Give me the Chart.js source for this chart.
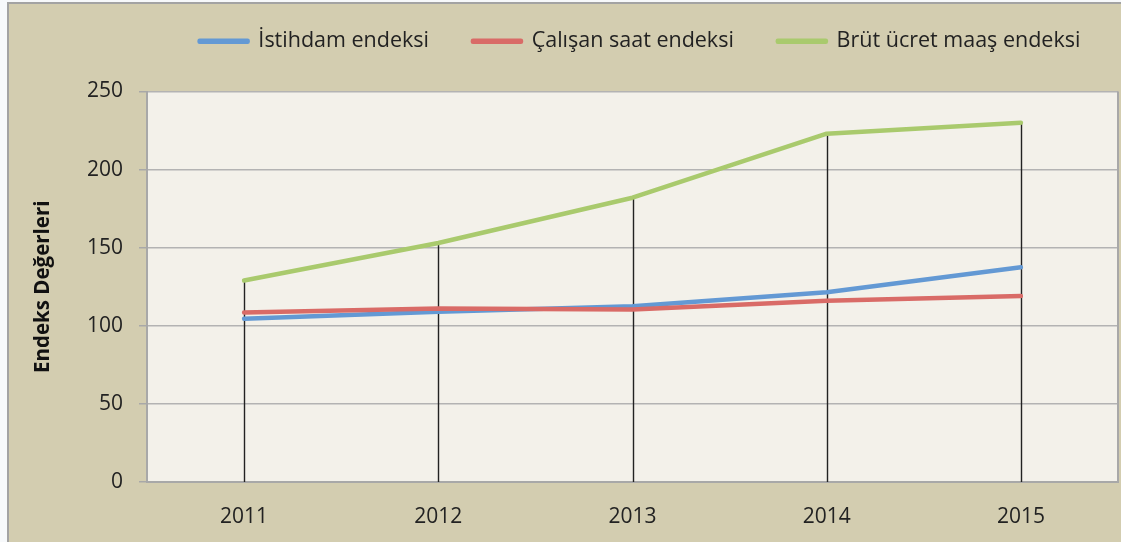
<!DOCTYPE html>
<html>
<head>
<meta charset="utf-8">
<script src="https://cdn.jsdelivr.net/npm/chart.js@4.4.0/dist/chart.umd.min.js"></script>
<style>
  html, body { margin: 0; padding: 0; background: #f7f9fb; }
</style>
</head>
<body>
<canvas id="endeksChart" width="1121" height="542"></canvas>
<script>
const anios = ['2011', '2012', '2013', '2014', '2015'];
const istihdam = [104.5, 109, 112.5, 121.5, 137.5];
const calisanSaat = [108.5, 111, 110.5, 116, 119];
const brutUcret = [129, 153, 182, 223, 230];
const yMin = 0, yMax = 250, yPaso = 50;

Chart.defaults.font.family = "'Open Sans', sans-serif";
Chart.defaults.color = '#222';

// fondo del grafico y del area de trazado
const fondo = {
  id: 'fondo',
  beforeDraw(chart) {
    const { ctx, chartArea: a } = chart;
    ctx.save();
    ctx.fillStyle = '#f7f9fb';
    ctx.fillRect(0, 0, chart.width, chart.height);
    ctx.fillStyle = '#d3cdb0';
    ctx.fillRect(8, 3, chart.width - 8, chart.height - 3);
    ctx.strokeStyle = '#a3a3a3';
    ctx.lineWidth = 2;
    ctx.beginPath();
    ctx.moveTo(8, chart.height);
    ctx.lineTo(8, 3);
    ctx.lineTo(chart.width, 3);
    ctx.stroke();
    ctx.fillStyle = '#f3f1ea';
    ctx.fillRect(a.left, a.top, a.right - a.left, a.bottom - a.top);
    ctx.restore();
  }
};

// lineas verticales desde la serie verde hasta el eje
const lineasCaida = {
  id: 'lineasCaida',
  beforeDatasetsDraw(chart) {
    const { ctx, chartArea: a } = chart;
    const meta = chart.getDatasetMeta(2);
    ctx.save();
    ctx.strokeStyle = '#a8a8a8';
    ctx.lineWidth = 2;
    ctx.beginPath();
    ctx.moveTo(a.right, a.top);
    ctx.lineTo(a.right, a.bottom);
    ctx.stroke();
    ctx.strokeStyle = '#222';
    ctx.lineWidth = 1.4;
    meta.data.forEach(p => {
      ctx.beginPath();
      ctx.moveTo(Math.round(p.x) + 0.5, p.y);
      ctx.lineTo(Math.round(p.x) + 0.5, a.bottom);
      ctx.stroke();
    });
    ctx.restore();
  }
};

// ajustar altura y posicion de la leyenda
const ajusteLeyenda = {
  id: 'ajusteLeyenda',
  beforeInit(chart) {
    const fitOriginal = chart.legend.fit;
    chart.legend.fit = function fit() {
      fitOriginal.bind(chart.legend)();
      this.height += 29.5;
    };
  },
  afterLayout(chart) {
    chart.legend.left += 77;
    chart.legend.right += 77;
  }
};

const ctx = document.getElementById('endeksChart').getContext('2d');
new Chart(ctx, {
  type: 'line',
  data: {
    labels: anios,
    datasets: [
      {
        label: 'İstihdam endeksi',
        data: istihdam,
        borderColor: '#6399d4',
        backgroundColor: '#6399d4',
        order: 2
      },
      {
        label: 'Çalışan saat endeksi',
        data: calisanSaat,
        borderColor: '#d96b67',
        backgroundColor: '#d96b67',
        order: 1
      },
      {
        label: 'Brüt ücret maaş endeksi',
        data: brutUcret,
        borderColor: '#a9ca6d',
        backgroundColor: '#a9ca6d',
        order: 0
      }
    ]
  },
  options: {
    responsive: false,
    devicePixelRatio: 1,
    animation: false,
    elements: {
      line: { borderWidth: 4.5, tension: 0, borderCapStyle: 'round', borderJoinStyle: 'round' },
      point: { radius: 0, hoverRadius: 0 }
    },
    layout: { padding: { top: -13.5, left: 8, right: 3, bottom: 0 } },
    plugins: {
      legend: {
        display: true,
        position: 'top',
        labels: {
          boxWidth: 48,
          boxHeight: 1,
          padding: 44,
          font: { size: 21.5 },
          color: '#222',
          sort: (a, b) => a.datasetIndex - b.datasetIndex
        }
      },
      tooltip: { enabled: false }
    },
    scales: {
      x: {
        offset: true,
        grid: { display: false },
        border: { display: true, color: '#a8a8a8', width: 2 },
        ticks: { padding: 14, font: { size: 21 }, color: '#222' },
        afterFit(scale) { scale.height = 60; }
      },
      y: {
        min: yMin,
        max: yMax,
        ticks: { stepSize: yPaso, padding: 16, font: { size: 21 }, color: '#222' },
        grid: { color: '#b3b3b3', lineWidth: 1.5, tickLength: 8, tickColor: '#a8a8a8' },
        border: { display: true, color: '#a8a8a8', width: 2 },
        title: {
          display: true,
          text: 'Endeks Değerleri',
          font: { size: 20.5, weight: 'bold' },
          color: '#111',
          padding: { top: 23, bottom: 0 }
        },
        afterFit(scale) { scale.width = 139; }
      }
    }
  },
  plugins: [fondo, lineasCaida, ajusteLeyenda]
});
</script>
</body>
</html>
